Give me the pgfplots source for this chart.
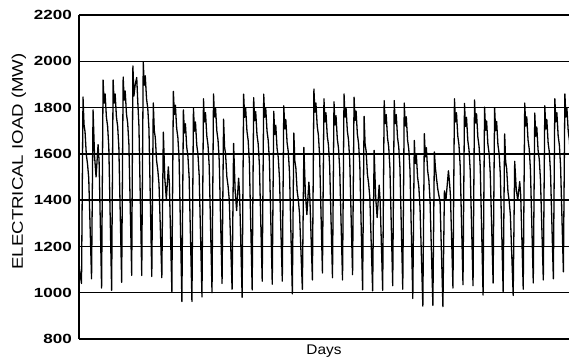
\documentclass[border=0pt]{standalone}
\usepackage{pgfplots}
\pgfplotsset{compat=1.18}
\usepackage{fontspec}
\setmainfont{Liberation Sans}
\usepackage{graphicx}
\newcommand\tl[1]{\scalebox{1.28}[1]{\fontsize{13.3}{14}\selectfont\bfseries #1}}
\begin{document}
\begin{tikzpicture}
\begin{axis}[
 scale only axis, width=490pt, height=324pt,
 xmin=-0.25, xmax=48.56, ymin=800, ymax=2200,
 axis x line=bottom, axis y line=left,
 axis line style={-, line width=1.4pt},
 xtick=\empty, ytick={800,1000,1200,1400,1600,1800,2000,2200},
 yticklabels={\tl{800},\tl{1000},\tl{1200},\tl{1400},\tl{1600},\tl{1800},\tl{2000},\tl{2200}},
 major tick length=0pt,
 yticklabel style={anchor=east, inner sep=0pt, xshift=-7pt},
 ymajorgrids, grid style={black, line width=1.4pt},
 ylabel={\scalebox{1.21}[1]{\fontsize{15.4}{16}\selectfont ELECTRICAL IOAD (MW)}},
 ylabel style={at={(axis description cs:-0.1143,0.548)}, anchor=base},
 xlabel={\scalebox{1.1}[1]{\fontsize{14}{15}\selectfont Days}},
 xlabel style={at={(axis description cs:0.5,-0.0463)}, anchor=base},
 clip=true,
]
\coordinate (sw) at (rel axis cs:0,0);
\coordinate (ne) at (rel axis cs:1,1);
\addplot[black, line width=1.3pt, line join=round] coordinates {
(-0.25,1110)
(0,1040) (0.15,1846) (0.25,1726) (0.35,1696) (0.48,1596) (0.6,1556) (0.72,1496)
(1,1060) (1.15,1790) (1.3,1590) (1.45,1500) (1.65,1640) (1.75,1570)
(2,1020) (2.15,1919) (2.25,1819) (2.35,1859) (2.48,1759) (2.6,1719) (2.72,1629)
(3,1010) (3.15,1919) (3.25,1819) (3.35,1859) (3.48,1759) (3.6,1719) (3.72,1629)
(4,1045) (4.15,1932) (4.25,1832) (4.35,1872) (4.48,1772) (4.6,1732) (4.72,1642)
(5,1075) (5.12,1980) (5.22,1850) (5.35,1900) (5.5,1930) (5.6,1830) (5.72,1720)
(6,1075) (6.15,1997) (6.25,1897) (6.35,1937) (6.48,1837) (6.6,1797) (6.72,1707)
(7,1070) (7.15,1820) (7.25,1700) (7.35,1670) (7.48,1570) (7.6,1530) (7.72,1470)
(8,1065) (8.15,1694) (8.3,1494) (8.45,1404) (8.65,1544) (8.75,1474)
(9,1005) (9.15,1870) (9.25,1770) (9.35,1810) (9.48,1710) (9.6,1670) (9.72,1580)
(10,962) (10.15,1790) (10.25,1690) (10.35,1730) (10.48,1630) (10.6,1590) (10.72,1500)
(11,962) (11.15,1798) (11.25,1698) (11.35,1738) (11.48,1638) (11.6,1598) (11.72,1508)
(12,982) (12.15,1838) (12.25,1738) (12.35,1778) (12.48,1678) (12.6,1638) (12.72,1548)
(13,1000) (13.15,1859) (13.25,1759) (13.35,1799) (13.48,1699) (13.6,1659) (13.72,1569)
(14,1040) (14.15,1750) (14.25,1630) (14.35,1600) (14.48,1500) (14.6,1460) (14.72,1400)
(15,1015) (15.15,1645) (15.3,1445) (15.45,1355) (15.65,1495) (15.75,1425)
(16,980) (16.15,1858) (16.25,1758) (16.35,1798) (16.48,1698) (16.6,1658) (16.72,1568)
(17,1012) (17.15,1843) (17.25,1743) (17.35,1783) (17.48,1683) (17.6,1643) (17.72,1553)
(18,1050) (18.15,1858) (18.25,1758) (18.35,1798) (18.48,1698) (18.6,1658) (18.72,1568)
(19,1037) (19.15,1784) (19.25,1684) (19.35,1724) (19.48,1624) (19.6,1584) (19.72,1494)
(20,1050) (20.15,1808) (20.25,1708) (20.35,1748) (20.48,1648) (20.6,1608) (20.72,1518)
(21,995) (21.15,1690) (21.25,1570) (21.35,1540) (21.48,1440) (21.6,1400) (21.72,1340)
(22,1015) (22.15,1628) (22.3,1428) (22.45,1338) (22.65,1478) (22.75,1408)
(23,1055) (23.15,1880) (23.25,1780) (23.35,1820) (23.48,1720) (23.6,1680) (23.72,1590)
(24,1085) (24.15,1838) (24.25,1738) (24.35,1778) (24.48,1678) (24.6,1638) (24.72,1548)
(25,1065) (25.15,1825) (25.25,1725) (25.35,1765) (25.48,1665) (25.6,1625) (25.72,1535)
(26,1055) (26.15,1859) (26.25,1759) (26.35,1799) (26.48,1699) (26.6,1659) (26.72,1569)
(27,1078) (27.15,1845) (27.25,1745) (27.35,1785) (27.48,1685) (27.6,1645) (27.72,1555)
(28,1012) (28.15,1762) (28.25,1642) (28.35,1612) (28.48,1512) (28.6,1472) (28.72,1412)
(29,1008) (29.15,1615) (29.3,1415) (29.45,1325) (29.65,1465) (29.75,1395)
(30,1010) (30.15,1830) (30.25,1730) (30.35,1770) (30.48,1670) (30.6,1630) (30.72,1540)
(31,1030) (31.15,1830) (31.25,1730) (31.35,1770) (31.48,1670) (31.6,1630) (31.72,1540)
(32,1015) (32.15,1820) (32.25,1720) (32.35,1760) (32.48,1660) (32.6,1620) (32.72,1530)
(33,975) (33.15,1658) (33.25,1558) (33.35,1598) (33.48,1498) (33.6,1458) (33.72,1368)
(34,942) (34.15,1687) (34.25,1587) (34.35,1627) (34.48,1527) (34.6,1487) (34.72,1397)
(35,945) (35.15,1608) (35.25,1540) (35.35,1500) (35.48,1450) (35.6,1420) (35.72,1390)
(36,940) (36.15,1440) (36.3,1400) (36.55,1527) (36.65,1480) (36.75,1420)
(37,1020) (37.15,1838) (37.25,1738) (37.35,1778) (37.48,1678) (37.6,1638) (37.72,1548)
(38,1035) (38.15,1818) (38.25,1718) (38.35,1758) (38.48,1658) (38.6,1618) (38.72,1528)
(39,1030) (39.15,1833) (39.25,1733) (39.35,1773) (39.48,1673) (39.6,1633) (39.72,1543)
(40,990) (40.15,1802) (40.25,1702) (40.35,1742) (40.48,1642) (40.6,1602) (40.72,1512)
(41,1042) (41.15,1800) (41.25,1700) (41.35,1740) (41.48,1640) (41.6,1600) (41.72,1510)
(42,1005) (42.15,1686) (42.25,1566) (42.35,1536) (42.48,1436) (42.6,1396) (42.72,1336)
(43,988) (43.15,1568) (43.3,1450) (43.45,1400) (43.65,1480) (43.75,1420)
(44,1015) (44.15,1820) (44.25,1720) (44.35,1760) (44.48,1660) (44.6,1620) (44.72,1530)
(45,1042) (45.15,1776) (45.25,1676) (45.35,1716) (45.48,1616) (45.6,1576) (45.72,1486)
(46,1055) (46.15,1808) (46.25,1708) (46.35,1748) (46.48,1648) (46.6,1608) (46.72,1518)
(47,1060) (47.15,1838) (47.25,1738) (47.35,1778) (47.48,1678) (47.6,1638) (47.72,1548)
(48,1090) (48.15,1859) (48.25,1759) (48.35,1799) (48.48,1699) (48.6,1659) (48.72,1569)
};
\end{axis}
\pgfresetboundingbox
\useasboundingbox ([shift={(-79pt,-19pt)}]sw) rectangle ([shift={(0pt,15pt)}]ne);
\end{tikzpicture}
\end{document}
